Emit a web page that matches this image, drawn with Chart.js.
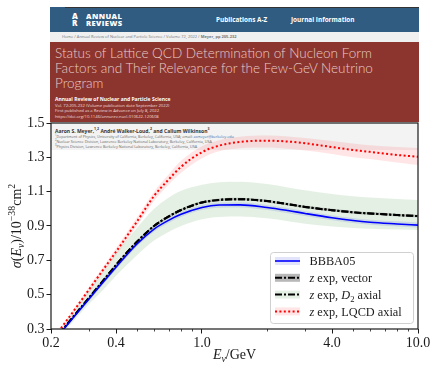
<!DOCTYPE html>
<html lang="en">
<head>
<meta charset="UTF-8">
<title>Cross section</title>
<style>
  body { margin: 0; background: #fff; width: 432px; height: 365px; overflow: hidden; position: relative; font-family: "Open Sans", Arial, sans-serif; }
  .paper { position: absolute; left: 50px; top: 7px; width: 369px; height: 143px; }
  .topline { position: absolute; left: 15px; right: 0; top: 0; height: 1px; background: #333; }
  .bar { position: absolute; left: 0; right: 0; top: 0; height: 25px; background: #2f5c80; color: #fff; font-weight: 700; }
  .mark { position: absolute; left: 22px; top: 5px; font-size: 8px; line-height: 7px; font-weight: 800; }
  .name { position: absolute; left: 36px; top: 5.5px; font-size: 7.6px; line-height: 7.5px; letter-spacing: 0.4px; font-weight: 800; }
  .nav { position: absolute; top: 9px; font-size: 6.4px; line-height: 8px; }
  .crumb { position: absolute; left: 0; right: 0; top: 25px; height: 10px; background: #f0f0f0; color: #777; font-size: 4px; line-height: 10px; padding-left: 12px; box-sizing: border-box; white-space: nowrap; }
  .hero { position: absolute; left: 0; right: 0; top: 35px; height: 80px; background: #8c352e; color: #fff; }
  .title { position: absolute; left: 5px; top: 4px; font-family: "Lato Light", Lato, "Open Sans", sans-serif; font-weight: 300; font-size: 13.5px; line-height: 15px; color: #e9cbc6; white-space: nowrap; }
  .journal { position: absolute; left: 5px; top: 54px; font-size: 5px; font-weight: 700; line-height: 6px; white-space: nowrap; }
  .meta { position: absolute; left: 5px; top: 61px; font-size: 4.2px; line-height: 5.4px; color: #f2dedb; white-space: nowrap; }
  .authors { position: absolute; left: 0; right: 1px; top: 115px; height: 28px; background: #f3f3f3; color: #333; }
  .who { position: absolute; left: 5px; top: 6px; font-size: 5px; font-weight: 700; line-height: 6px; white-space: nowrap; }
  .aff { position: absolute; left: 5px; top: 12.5px; font-size: 3.7px; line-height: 4.8px; color: #666; white-space: nowrap; }
  .aff a { color: #3a6fb0; text-decoration: none; }
  sup { font-size: 70%; line-height: 0; }
  #chart { position: absolute; left: 0; top: 0; }
</style>
</head>
<body>
<div class="paper">
  <div class="bar">
    <div class="mark">A<br>R</div>
    <div class="name">ANNUAL<br>REVIEWS</div>
    <div class="nav" style="left:166px">Publications A-Z</div>
    <div class="nav" style="left:241px">Journal Information</div>
  </div>
  <div class="topline"></div>
  <div class="crumb">Home / Annual Review of Nuclear and Particle Science / Volume 72, 2022 / <b>Meyer, pp 205-232</b></div>
  <div class="hero">
    <div class="title">Status of Lattice QCD Determination of Nucleon Form<br>Factors and Their Relevance for the Few-GeV Neutrino<br>Program</div>
    <div class="journal">Annual Review of Nuclear and Particle Science</div>
    <div class="meta">Vol. 72:205-232 (Volume publication date September 2022)<br>First published as a Review in Advance on July 8, 2022<br>https://doi.org/10.1146/annurev-nucl-010622-120608</div>
  </div>
  <div class="authors">
    <div class="who">Aaron S. Meyer,<sup>1,2</sup> André Walker-Loud,<sup>2</sup> and Callum Wilkinson<sup>3</sup></div>
    <div class="aff"><sup>1</sup>Department of Physics, University of California, Berkeley, California, USA; email: <a>asmeyer@berkeley.edu</a><br><sup>2</sup>Nuclear Science Division, Lawrence Berkeley National Laboratory, Berkeley, California, USA<br><sup>3</sup>Physics Division, Lawrence Berkeley National Laboratory, Berkeley, California, USA</div>
  </div>
</div>
<canvas id="chart" width="432" height="365"></canvas>

<script src="https://cdn.jsdelivr.net/npm/chart.js"></script>
<script>
// neutrino energy (GeV)
const energies = [0.2, 0.22, 0.25, 0.3, 0.35, 0.4, 0.5, 0.6, 0.7, 0.8, 1.0, 1.2, 1.5, 2.0, 2.5, 3.0, 4.0, 5.0, 6.0, 8.0, 10.0];

// sigma in 1e-38 cm^2
const bbba05   = [0.21, 0.272, 0.357, 0.475, 0.575, 0.66, 0.795, 0.882, 0.933, 0.968, 1.008, 1.022, 1.023, 1.008, 0.99, 0.973, 0.948, 0.932, 0.922, 0.912, 0.905];
const bbba05Hi = [0.214, 0.279, 0.366, 0.487, 0.588, 0.674, 0.81, 0.897, 0.948, 0.983, 1.023, 1.037, 1.038, 1.023, 1.005, 0.988, 0.963, 0.947, 0.937, 0.927, 0.92];
const bbba05Lo = [0.206, 0.265, 0.348, 0.463, 0.562, 0.646, 0.78, 0.867, 0.918, 0.953, 0.993, 1.007, 1.008, 0.993, 0.975, 0.958, 0.933, 0.917, 0.907, 0.897, 0.89];

const vector   = [0.212, 0.276, 0.362, 0.482, 0.584, 0.673, 0.808, 0.9, 0.955, 0.993, 1.037, 1.052, 1.056, 1.045, 1.027, 1.011, 0.992, 0.98, 0.973, 0.964, 0.958];
const vectorHi = [0.215, 0.28, 0.368, 0.489, 0.592, 0.681, 0.816, 0.908, 0.963, 1.001, 1.045, 1.06, 1.064, 1.053, 1.035, 1.019, 1.0, 0.988, 0.981, 0.972, 0.966];
const vectorLo = [0.209, 0.272, 0.356, 0.475, 0.576, 0.665, 0.8, 0.892, 0.947, 0.985, 1.029, 1.044, 1.048, 1.037, 1.019, 1.003, 0.984, 0.972, 0.965, 0.956, 0.95];

const d2Axial   = [0.212, 0.276, 0.362, 0.482, 0.584, 0.673, 0.808, 0.9, 0.955, 0.993, 1.037, 1.052, 1.056, 1.045, 1.027, 1.011, 0.992, 0.98, 0.973, 0.964, 0.958];
const d2AxialHi = [0.22, 0.29, 0.385, 0.52, 0.635, 0.74, 0.89, 1.0, 1.065, 1.105, 1.14, 1.155, 1.158, 1.145, 1.125, 1.108, 1.087, 1.074, 1.066, 1.057, 1.051];
const d2AxialLo = [0.2, 0.26, 0.335, 0.445, 0.53, 0.61, 0.73, 0.815, 0.865, 0.9, 0.94, 0.953, 0.956, 0.945, 0.928, 0.913, 0.897, 0.889, 0.884, 0.879, 0.877];

const lqcdAxial   = [0.22, 0.296, 0.391, 0.53, 0.648, 0.75, 0.926, 1.075, 1.17, 1.245, 1.33, 1.368, 1.39, 1.397, 1.392, 1.382, 1.36, 1.343, 1.332, 1.314, 1.303];
const lqcdAxialHi = [0.225, 0.303, 0.401, 0.545, 0.665, 0.77, 0.95, 1.1, 1.2, 1.28, 1.365, 1.4, 1.42, 1.427, 1.422, 1.413, 1.395, 1.38, 1.37, 1.36, 1.354];
const lqcdAxialLo = [0.215, 0.29, 0.38, 0.51, 0.63, 0.73, 0.9, 1.045, 1.14, 1.21, 1.295, 1.335, 1.353, 1.357, 1.35, 1.34, 1.32, 1.3, 1.29, 1.27, 1.255];

const seriesNames = ['BBBA05', 'z exp, vector', 'z exp, D2 axial', 'z exp, LQCD axial'];

const xMajorTicks = [0.2, 0.4, 1.0, 4.0, 10.0];
const xMinorTicks = [0.3, 0.5, 0.6, 0.7, 0.8, 0.9, 2, 3, 5, 6, 7, 8, 9];
const yTicks = [0.3, 0.5, 0.7, 0.9, 1.1, 1.3, 1.5];

const SERIF = '"Liberation Serif", "Times New Roman", serif';
const INK = '#1a1a1a';

function pts(vals) {
  return energies.map((e, i) => ({ x: e, y: vals[i] }));
}

function line(label, vals, color, width, dash) {
  return {
    label: label, data: pts(vals), borderColor: color, borderWidth: width, borderDash: dash,
    pointRadius: 0, fill: false, cubicInterpolationMode: 'monotone', order: 0
  };
}

function band(vals, color, fillTo) {
  return {
    label: '', data: pts(vals), borderWidth: 0, borderColor: 'transparent', backgroundColor: color,
    pointRadius: 0, fill: fillTo, cubicInterpolationMode: 'monotone', order: 1
  };
}

const styles = [
  { color: '#0000ff', width: 1.6, dash: [], patch: 'rgba(70,90,230,0.16)' },
  { color: '#000000', width: 2, dash: [7, 2, 2, 2], patch: 'rgba(0,0,0,0.28)' },
  { color: '#000000', width: 2, dash: [7, 2, 2, 2], patch: 'rgba(40,130,40,0.12)' },
  { color: '#ff0000', width: 2, dash: [2, 2.4], patch: 'rgba(255,40,40,0.12)' }
];

// rich text helper: parts = [{t, i(talic), sub, sup}]
function richWidth(ctx, parts, size) {
  let w = 0;
  parts.forEach(p => {
    const s = (p.sub || p.sup) ? size * 0.7 : size;
    ctx.font = (p.i ? 'italic ' : '') + s + 'px ' + SERIF;
    w += ctx.measureText(p.t).width;
  });
  return w;
}
function drawRich(ctx, parts, x, y, size) {
  let cx = x;
  parts.forEach(p => {
    const s = (p.sub || p.sup) ? size * 0.7 : size;
    ctx.font = (p.i ? 'italic ' : '') + s + 'px ' + SERIF;
    const dy = p.sub ? size * 0.22 : (p.sup ? -size * 0.42 : 0);
    ctx.fillText(p.t, cx, y + dy);
    cx += ctx.measureText(p.t).width;
  });
}
function legendParts(name) {
  const parts = [];
  name.split(/(z|D2)/).forEach(chunk => {
    if (!chunk) return;
    if (chunk === 'z') parts.push({ t: 'z', i: true });
    else if (chunk === 'D2') { parts.push({ t: 'D', i: true }); parts.push({ t: '2', sub: true }); }
    else parts.push({ t: chunk });
  });
  return parts;
}

const decorations = {
  id: 'decorations',
  afterDatasetsDraw(chart) {
    const ctx = chart.ctx;
    const a = chart.chartArea;
    const xs = chart.scales.x;
    ctx.save();
    // frame
    ctx.strokeStyle = INK;
    ctx.lineWidth = 1.2;
    ctx.strokeRect(a.left, a.top, a.right - a.left, a.bottom - a.top);
    // minor x ticks
    ctx.lineWidth = 0.8;
    xMinorTicks.forEach(v => {
      const px = Math.round(xs.getPixelForValue(v)) + 0.5;
      ctx.beginPath();
      ctx.moveTo(px, a.bottom);
      ctx.lineTo(px, a.bottom + 2.5);
      ctx.stroke();
    });

    // legend
    const size = 12.3;
    const rowH = 16.8;
    const boxW = 143, boxH = 71;
    const bx = a.right - 5 - boxW, by = a.bottom - 6 - boxH;
    ctx.fillStyle = 'rgba(255,255,255,0.85)';
    ctx.strokeStyle = '#d0d0d0';
    ctx.lineWidth = 1;
    ctx.beginPath();
    ctx.roundRect(bx + 0.5, by + 0.5, boxW, boxH, 3);
    ctx.fill();
    ctx.stroke();
    seriesNames.forEach((name, i) => {
      const st = styles[i];
      const cy = by + 9 + i * rowH;
      const hx = bx + 5, hw = 25;
      ctx.fillStyle = st.patch;
      ctx.fillRect(hx, cy - 4, hw, 8);
      ctx.strokeStyle = st.color;
      ctx.lineWidth = st.width;
      ctx.setLineDash(st.dash);
      ctx.beginPath();
      ctx.moveTo(hx, cy);
      ctx.lineTo(hx + hw, cy);
      ctx.stroke();
      ctx.setLineDash([]);
      ctx.fillStyle = INK;
      ctx.textBaseline = 'alphabetic';
      drawRich(ctx, legendParts(name), bx + 39.5, cy + 4.3, size);
    });

    // axis titles
    ctx.fillStyle = INK;
    const xt = [{ t: 'E', i: true }, { t: 'ν', i: true, sub: true }, { t: '/GeV' }];
    const xw = richWidth(ctx, xt, 14);
    drawRich(ctx, xt, (a.left + a.right) / 2 - xw / 2, 359, 14);

    const yt = [{ t: 'σ', i: true }, { t: '(' }, { t: 'E', i: true }, { t: 'ν', i: true, sub: true },
      { t: ')/10' }, { t: '−38', sup: true }, { t: 'cm' }, { t: '2', sup: true }];
    const yw = richWidth(ctx, yt, 14);
    ctx.translate(21, (a.top + a.bottom) / 2);
    ctx.rotate(-Math.PI / 2);
    drawRich(ctx, yt, -yw / 2, 0, 14);
    ctx.restore();
  }
};

const datasets = [
  line(seriesNames[0], bbba05, styles[0].color, styles[0].width, styles[0].dash),
  line(seriesNames[1], vector, styles[1].color, styles[1].width, styles[1].dash),
  line(seriesNames[2], d2Axial, styles[2].color, styles[2].width, styles[2].dash),
  line(seriesNames[3], lqcdAxial, styles[3].color, styles[3].width, styles[3].dash),
  band(d2AxialHi, 'rgba(40,130,40,0.12)', '+1'),
  band(d2AxialLo, 'transparent', false),
  band(lqcdAxialHi, 'rgba(255,40,40,0.12)', '+1'),
  band(lqcdAxialLo, 'transparent', false),
  band(vectorHi, 'rgba(0,0,0,0.22)', '+1'),
  band(vectorLo, 'transparent', false),
  band(bbba05Hi, 'rgba(70,90,230,0.16)', '+1'),
  band(bbba05Lo, 'transparent', false)
];

new Chart(document.getElementById('chart'), {
  type: 'line',
  data: { datasets: datasets },
  plugins: [decorations],
  options: {
    responsive: false,
    animation: false,
    events: [],
    layout: { padding: { left: 0, right: 14, top: 123, bottom: 0 } },
    plugins: { legend: { display: false }, tooltip: { enabled: false } },
    scales: {
      x: {
        type: 'logarithmic', min: 0.2, max: 10,
        afterBuildTicks: s => { s.ticks = xMajorTicks.map(v => ({ value: v })); },
        afterFit: s => { s.height = 36; },
        border: { display: false },
        grid: { drawOnChartArea: false, tickLength: 4.5, tickColor: INK, tickWidth: 1 },
        ticks: { color: INK, font: { family: SERIF, size: 14 }, padding: 1, maxRotation: 0, autoSkip: false,
          callback: v => Number(v).toFixed(1) }
      },
      y: {
        min: 0.3, max: 1.5,
        afterBuildTicks: s => { s.ticks = yTicks.map(v => ({ value: v })); },
        afterFit: s => { s.width = 51; },
        border: { display: false },
        grid: { drawOnChartArea: false, tickLength: 4.5, tickColor: INK, tickWidth: 1 },
        ticks: { color: INK, font: { family: SERIF, size: 14 }, padding: 2,
          callback: v => Number(v).toFixed(1) }
      }
    }
  }
});
</script>
</body>
</html>
